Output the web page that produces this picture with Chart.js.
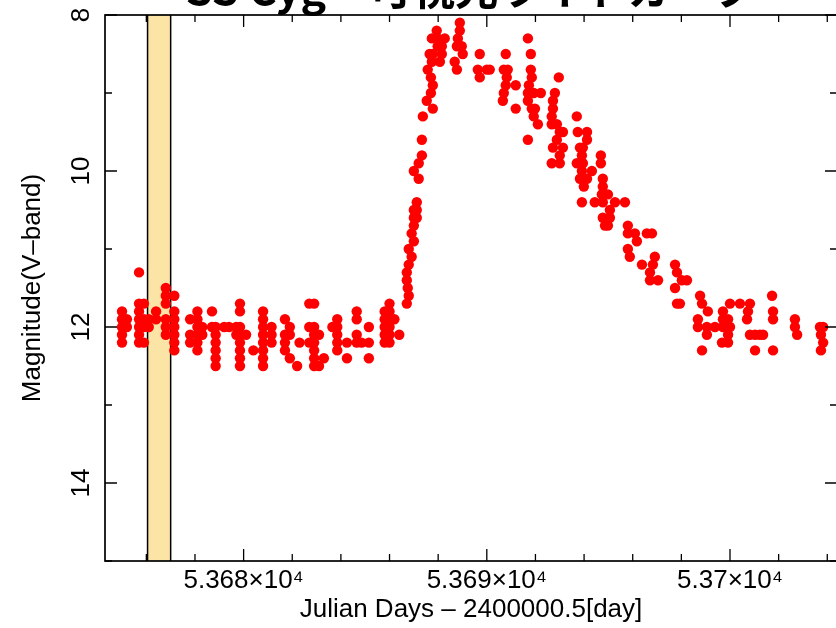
<!DOCTYPE html>
<html>
<head>
<meta charset="utf-8">
<script src="https://cdn.jsdelivr.net/npm/chart.js@4/dist/chart.umd.min.js"></script>
<style>
  html, body { margin: 0; padding: 0; background: #fff; overflow: hidden; }
  #wrap { width: 836px; height: 628px; overflow: hidden; }
  canvas { display: block; }
</style>
</head>
<body>
<div id="wrap"><canvas id="lightcurve" width="880" height="628" style="width:880px;height:628px"></canvas></div>
<script>
// V-band photometry of SS Cyg, MJD vs magnitude

// quiescence before the outburst
const quietJd = [
  53675.0, 53675.0, 53675.0, 53675.0, 53675.0,
  53675.2, 53675.2,
  53675.7, 53675.7, 53675.7, 53675.7, 53675.7, 53675.7, 53675.7,
  53675.9, 53675.9, 53675.9, 53675.9,
  53676.1, 53676.1,
  53676.4, 53676.4,
  53676.8, 53676.8, 53676.8, 53676.8, 53676.8, 53676.8,
  53677.15, 53677.15, 53677.15, 53677.15, 53677.15, 53677.15, 53677.15,
  53677.8, 53677.8, 53677.8,
  53678.1, 53678.1, 53678.1, 53678.1, 53678.1, 53678.1,
  53678.3, 53678.3,
  53678.7, 53678.7,
  53678.85, 53678.85, 53678.85, 53678.85, 53678.85, 53678.85,
  53679.2,
  53679.4,
  53679.7, 53679.7,
  53679.85, 53679.85, 53679.85, 53679.85, 53679.85, 53679.85, 53679.85, 53679.85,
  53680.1,
  53680.4,
  53680.8, 53680.8, 53680.8, 53680.8, 53680.8, 53680.8, 53680.8, 53680.8,
  53681.15, 53681.15, 53681.15,
  53681.7, 53681.7, 53681.7, 53681.7,
  53681.9, 53681.9, 53681.9,
  53682.2,
  53682.3,
  53682.7, 53682.7, 53682.7,
  53682.9, 53682.9, 53682.9, 53682.9, 53682.9, 53682.9, 53682.9,
  53683.1, 53683.1,
  53683.3,
  53683.65,
  53683.85, 53683.85, 53683.85, 53683.85, 53683.85,
  53684.25, 53684.25,
  53684.65, 53684.65, 53684.65, 53684.65,
  53684.85,
  53685.15, 53685.15, 53685.15,
  53685.8, 53685.8, 53685.8, 53685.8, 53685.8,
  53686.0, 53686.0, 53686.0, 53686.0, 53686.0, 53686.0,
  53686.2,
  53686.4
];
const quietMag = [
  11.8, 11.9, 12.0, 12.1, 12.2,
  11.9, 12.0,
  11.3, 11.7, 11.8, 11.9, 12.0, 12.1, 12.2,
  11.7, 11.9, 12.0, 12.2,
  11.9, 12.0,
  11.8, 11.9,
  11.5, 11.6, 11.7, 11.9, 12.0, 12.1,
  11.6, 11.8, 11.9, 12.0, 12.1, 12.2, 12.3,
  11.9, 12.1, 12.2,
  11.8, 11.9, 12.0, 12.1, 12.2, 12.3,
  12.0, 12.1,
  11.8, 12.0,
  12.0, 12.1, 12.2, 12.3, 12.4, 12.5,
  12.0,
  12.0,
  12.0, 12.1,
  11.7, 11.8, 12.0, 12.1, 12.2, 12.3, 12.4, 12.5,
  12.1,
  12.3,
  11.8, 11.9, 12.0, 12.1, 12.2, 12.3, 12.4, 12.5,
  12.0, 12.1, 12.2,
  11.9, 12.1, 12.2, 12.3,
  12.0, 12.1, 12.4,
  12.5,
  12.2,
  11.7, 12.0, 12.2,
  11.7, 12.0, 12.1, 12.2, 12.3, 12.4, 12.5,
  12.1, 12.5,
  12.4,
  12.0,
  11.9, 12.0, 12.1, 12.2, 12.3,
  12.2, 12.4,
  11.8, 11.9, 12.1, 12.2,
  12.2,
  12.0, 12.2, 12.4,
  11.8, 11.9, 12.0, 12.1, 12.2,
  11.7, 11.8, 11.9, 12.0, 12.1, 12.2,
  11.9,
  12.1
];

// rise, maximum and plateau
const outburstJd = [
  53686.71, 53686.79, 53686.75, 53686.71, 53686.71, 53686.79, 53686.91, 53686.79,
  53687.0, 53686.91, 53687.0, 53687.0, 53687.12, 53687.0, 53687.12, 53687.12,
  53687.2, 53687.0, 53687.2, 53687.33, 53687.33, 53687.37,
  53687.78, 53687.53, 53687.7, 53687.78, 53687.7, 53687.57, 53687.74, 53688.07,
  53687.65, 53687.78, 53688.15, 53687.98, 53688.15, 53687.74, 53687.98, 53688.27, 53687.94,
  53688.68, 53688.77, 53688.77, 53688.81, 53688.89, 53688.89, 53688.97, 53689.01,
  53689.63, 53689.71, 53689.71, 53690.0, 53690.12,
  53690.66, 53690.7, 53690.7, 53690.78, 53690.78, 53690.82, 53690.86,
  53691.19, 53691.19
];
const outburstMag = [
  11.7, 11.6, 11.5, 11.4, 11.3, 11.2, 11.1, 11.0,
  10.9, 10.8, 10.7, 10.6, 10.6, 10.5, 10.5, 10.4,
  10.1, 10.0, 9.9, 9.8, 9.6, 9.3,
  9.2, 9.1, 9.0, 8.9, 8.8, 8.7, 8.6, 8.6,
  8.5, 8.5, 8.5, 8.4, 8.4, 8.3, 8.3, 8.3, 8.2,
  8.6, 8.7, 8.4, 8.3, 8.2, 8.1, 8.4, 8.5,
  8.7, 8.5, 8.8, 8.7, 8.7,
  9.1, 8.7, 9.0, 8.5, 8.9, 8.8, 8.7,
  8.9, 9.2
];

// decline back to quiescence
const declineJd = [
  53691.69, 53691.81, 53691.81, 53691.85, 53691.73, 53691.69, 53691.93, 53692.22,
  53691.69, 53691.85, 53691.98, 53691.93, 53692.10, 53691.69,
  53692.96, 53692.80, 53692.72, 53692.72, 53692.67, 53692.67, 53692.88, 53693.0,
  53693.13, 53692.88, 53692.72, 53693.13, 53693.0, 53692.67, 53693.0,
  53693.70, 53693.74, 53694.12, 53694.12, 53693.83, 53693.95, 53693.91, 53693.70,
  53693.95, 53693.91, 53694.32, 53693.83, 53694.12, 53693.99, 53693.91,
  53694.69, 53694.69, 53694.77, 53694.77, 53694.73, 53694.98, 53694.44, 53694.77,
  53695.27, 53695.68, 53695.06, 53694.77, 53695.06, 53694.86, 53694.98,
  53695.80, 53695.80, 53696.09, 53696.58, 53696.79, 53696.17, 53695.80, 53695.88,
  53696.91, 53696.38, 53696.83, 53696.71, 53697.04, 53696.71,
  53697.74, 53697.82, 53698.02, 53698.23, 53697.74, 53697.82, 53697.94,
  53698.77, 53698.85, 53699.09, 53698.68, 53698.68, 53699.05, 53699.38, 53699.05, 53698.85,
  53699.71, 53700.0, 53699.71, 53699.92, 53700.0, 53699.71, 53699.92, 53699.67, 53699.92,
  53700.41, 53700.82, 53700.74, 53700.70, 53700.82, 53701.03, 53701.23, 53701.36,
  53701.03, 53701.77, 53701.73, 53701.77, 53701.77,
  53702.67, 53702.67, 53702.76,
  53703.70, 53703.83, 53703.74, 53703.83, 53703.74
];
const declineMag = [
  8.3, 8.5, 8.7, 8.8, 8.9, 9.0, 9.0, 9.0,
  9.1, 9.2, 9.2, 9.3, 9.4, 9.6,
  8.8, 9.0, 9.1, 9.2, 9.3, 9.4, 9.4, 9.5,
  9.5, 9.6, 9.7, 9.7, 9.8, 9.9, 9.9,
  9.3, 9.5, 9.5, 9.6, 9.7, 9.7, 9.8, 9.9,
  9.9, 10.0, 10.0, 10.1, 10.1, 10.2, 10.4,
  9.8, 9.9, 10.1, 10.2, 10.3, 10.3, 10.4, 10.4,
  10.4, 10.4, 10.5, 10.6, 10.6, 10.7, 10.7,
  10.7, 10.8, 10.8, 10.8, 10.8, 10.9, 11.0, 11.1,
  11.1, 11.2, 11.2, 11.3, 11.4, 11.4,
  11.2, 11.3, 11.4, 11.4, 11.5, 11.7, 11.7,
  11.6, 11.7, 11.8, 11.9, 12.0, 12.0, 12.0, 12.1, 12.3,
  11.8, 11.7, 11.9, 11.9, 12.0, 12.0, 12.1, 12.2, 12.2,
  11.7, 11.7, 11.8, 11.9, 12.1, 12.1, 12.1, 12.1,
  12.3, 12.3, 11.6, 11.8, 11.9,
  11.9, 12.0, 12.1,
  12.0, 12.0, 12.1, 12.2, 12.3
];

// observation window highlighted on the plot
const bandStart = 53676.05;
const bandEnd = 53677.0;

const yTickLabels = [8, 10, 12, 14];

const FONT = '"Liberation Sans", Arial, sans-serif';

let points = [];
[[quietJd, quietMag], [outburstJd, outburstMag], [declineJd, declineMag]].forEach(([jd, mag]) => {
  jd.forEach((d, i) => points.push({x: d, y: mag[i]}));
});

// shaded window behind the points
const windowBand = {
  id: 'windowBand',
  beforeDatasetsDraw(chart) {
    const {ctx, chartArea: a, scales: {x}} = chart;
    const x0 = x.getPixelForValue(bandStart);
    const x1 = x.getPixelForValue(bandEnd);
    ctx.save();
    ctx.fillStyle = '#fbe4a6';
    ctx.fillRect(x0, a.top, x1 - x0, a.bottom - a.top);
    ctx.strokeStyle = '#000';
    ctx.lineWidth = 1.5;
    ctx.beginPath();
    ctx.moveTo(x0, a.top); ctx.lineTo(x0, a.bottom);
    ctx.moveTo(x1, a.top); ctx.lineTo(x1, a.bottom);
    ctx.stroke();
    ctx.restore();
  }
};

// box frame, inward ticks on all sides, rotated y labels and the title
const frame = {
  id: 'frame',
  afterDatasetsDraw(chart) {
    const {ctx, chartArea: a, scales: {x, y}} = chart;
    ctx.save();
    ctx.strokeStyle = '#000';
    ctx.lineWidth = 1.7;
    ctx.strokeRect(a.left, a.top, a.right - a.left, a.bottom - a.top);

    ctx.lineWidth = 1.3;
    ctx.beginPath();
    x.ticks.forEach(t => {
      const px = x.getPixelForValue(t.value);
      const len = t.value % 10 === 0 ? 12 : 7;
      ctx.moveTo(px, a.bottom); ctx.lineTo(px, a.bottom - len);
      ctx.moveTo(px, a.top); ctx.lineTo(px, a.top + len);
    });
    y.ticks.forEach(t => {
      const py = y.getPixelForValue(t.value);
      const len = t.value % 2 === 0 ? 12 : 7;
      ctx.moveTo(a.left, py); ctx.lineTo(a.left + len, py);
      ctx.moveTo(a.right, py); ctx.lineTo(a.right - len, py);
    });
    ctx.stroke();

    ctx.fillStyle = '#000';
    ctx.font = '26px ' + FONT;
    ctx.textAlign = 'center';
    ctx.textBaseline = 'middle';
    yTickLabels.forEach(v => {
      ctx.save();
      ctx.translate(82, y.getPixelForValue(v));
      ctx.rotate(-Math.PI / 2);
      ctx.fillText(String(v), 0, 0);
      ctx.restore();
    });

    // title sits mostly above the visible page
    ctx.font = 'bold 43px "Noto Sans CJK JP", sans-serif';
    ctx.textBaseline = 'alphabetic';
    ctx.fillText('SS Cyg\u3000可視光ライトカーブ', (a.left + a.right) / 2, 5);
    ctx.restore();
  }
};

const ctx = document.getElementById('lightcurve').getContext('2d');

new Chart(ctx, {
  type: 'scatter',
  data: {
    datasets: [{
      label: 'V',
      data: points,
      backgroundColor: '#ff0000',
      borderWidth: 0,
      pointRadius: 5.2,
      pointHoverRadius: 5.2
    }]
  },
  options: {
    responsive: false,
    animation: false,
    layout: { padding: { top: 15, right: 43, left: 0, bottom: 0 } },
    plugins: {
      legend: { display: false },
      tooltip: { enabled: false }
    },
    scales: {
      x: {
        type: 'linear',
        min: 53674.3,
        max: 53704.4,
        grid: { display: false, drawTicks: false },
        border: { display: false },
        ticks: {
          stepSize: 2,
          includeBounds: false,
          autoSkip: false,
          maxRotation: 0,
          padding: 4,
          color: '#000',
          font: { family: FONT, size: 26 },
          callback: v => (v % 10 === 0 ? String(v / 10000) + '×10⁴' : '')
        },
        title: {
          display: true,
          text: 'Julian Days – 2400000.5[day]',
          color: '#000',
          font: { family: FONT, size: 26 },
          padding: { top: 0, bottom: 3 }
        },
        afterFit: s => { s.height = 67; }
      },
      y: {
        reverse: true,
        min: 8,
        max: 15,
        grid: { display: false, drawTicks: false },
        border: { display: false },
        ticks: { display: false, stepSize: 1 },
        title: {
          display: true,
          text: 'Magnitude(V–band)',
          color: '#000',
          font: { family: FONT, size: 26 },
          padding: { top: 17, bottom: 0 }
        },
        afterFit: s => { s.width = 105; }
      }
    }
  },
  plugins: [windowBand, frame]
});
</script>
</body>
</html>
